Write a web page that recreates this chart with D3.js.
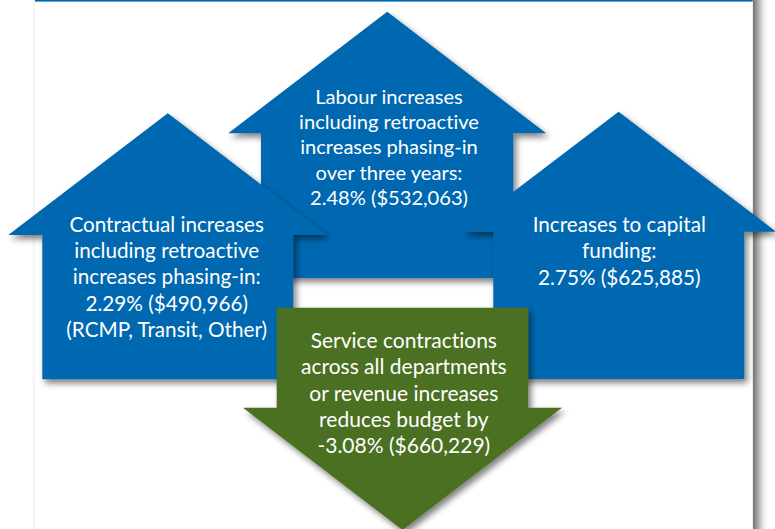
<!DOCTYPE html>
<html>
<head>
<meta charset="utf-8">
<script src="https://cdn.jsdelivr.net/npm/d3@7"></script>
<style>
  html, body { margin: 0; padding: 0; background: #ffffff; }
  svg { display: block; }
  text { font-variant-ligatures: none; font-feature-settings: "liga" 0, "dlig" 0; }
</style>
</head>
<body>
<svg id="chart" width="775" height="529"></svg>
<script>
// ---- data ----
const categories = ["Contractual", "Labour", "Capital", "Service"];
const labelLines = [
  ["Contractual increases", "including retroactive", "increases phasing-in:"],
  ["Labour increases", "including retroactive", "increases phasing-in", "over three years:"],
  ["Increases to capital", "funding:"],
  ["Service contractions", "across all departments", "or revenue increases", "reduces budget by"]
];
const pctValues = [2.29, 2.48, 2.75, -3.08];
const amountValues = [490966, 532063, 625885, 660229];
const noteLines = ["(RCMP, Transit, Other)", null, null, null];
const directions = ["up", "up", "up", "down"];

// ---- layout (geometry, not data) ----
const layout = {
  Contractual: { cx: 167.8, hw: 159.5, apex: 113.3, base: 235, boxL: 42.3, boxR: 293.3, end: 379.3,
                 tx: 166.7, ty: 231.5, lh: 26.45, fit: 194.7, fill: "#0067b1", order: 1 },
  Labour:      { cx: 387.2, hw: 159, apex: 11.7, base: 133.3, boxL: 261, boxR: 513.3, end: 278,
                 tx: 389, ty: 104, lh: 25.2, fit: 180, fill: "#0067b1", order: 0, fitLine: 1 },
  Capital:     { cx: 618.6, hw: 157.5, apex: 111.7, base: 231.7, boxL: 493.3, boxR: 744.3, end: 379,
                 tx: 619.3, ty: 231.7, lh: 26.6, fit: 173.3, fill: "#0067b1", order: 2 },
  Service:     { cx: 402.5, hw: 159.5, apex: 530, base: 407.7, boxL: 276.7, boxR: 528.3, end: 307.7,
                 tx: 403.8, ty: 348.3, lh: 26.1, fit: 205.7, fill: "#4b7020", order: 3, fitLine: 1 }
};

const locale = d3.formatLocale({ decimal: ".", thousands: ",", grouping: [3], currency: ["$", ""], minus: "-" });
const fmtAmt = locale.format(",");
const fmtPct = locale.format(".2f");

const items = categories.map((c, i) => ({
  cat: c,
  dir: directions[i],
  lines: labelLines[i]
    .concat([`${fmtPct(pctValues[i])}% ($${fmtAmt(amountValues[i])})`])
    .concat(noteLines[i] ? [noteLines[i]] : []),
  L: layout[c]
})).sort((a, b) => a.L.order - b.L.order);

const svg = d3.select("#chart");
const W = 775, H = 529;

const defs = svg.append("defs");
const f = defs.append("filter").attr("id", "ds")
  .attr("x", "-20%").attr("y", "-20%").attr("width", "140%").attr("height", "140%");
f.append("feGaussianBlur").attr("in", "SourceAlpha").attr("stdDeviation", 3);
f.append("feOffset").attr("dx", 3).attr("dy", 4).attr("result", "ob");
f.append("feComponentTransfer").call(s => s.append("feFuncA").attr("type", "linear").attr("slope", 0.5));
const fm = f.append("feMerge");
fm.append("feMergeNode");
fm.append("feMergeNode").attr("in", "SourceGraphic");

const pf = defs.append("filter").attr("id", "ps")
  .attr("x", "-10%").attr("y", "-10%").attr("width", "120%").attr("height", "120%");
pf.append("feGaussianBlur").attr("in", "SourceAlpha").attr("stdDeviation", 5);
pf.append("feOffset").attr("dx", 6).attr("dy", 0);
pf.append("feComponentTransfer").call(s => s.append("feFuncA").attr("type", "linear").attr("slope", 0.6));
const pm = pf.append("feMerge");
pm.append("feMergeNode");
pm.append("feMergeNode").attr("in", "SourceGraphic");

// page panel
svg.append("rect").attr("x", 0).attr("y", 0).attr("width", W).attr("height", H).attr("fill", "#ffffff");
svg.append("rect").attr("x", 35).attr("y", -20).attr("width", 717.7).attr("height", H + 40)
  .attr("fill", "#ffffff").attr("filter", "url(#ps)");
svg.append("rect").attr("x", 35).attr("y", 0).attr("width", 717.7).attr("height", 1.6).attr("fill", "#0067b1");

const line = d3.line();
function arrowPts(d) {
  const L = d.L;
  if (d.dir === "up") {
    return [[L.cx, L.apex], [L.cx + L.hw, L.base], [L.boxR, L.base], [L.boxR, L.end],
            [L.boxL, L.end], [L.boxL, L.base], [L.cx - L.hw, L.base]];
  }
  return [[L.boxL, L.end], [L.boxR, L.end], [L.boxR, L.base], [L.cx + L.hw, L.base],
          [L.cx, L.apex], [L.cx - L.hw, L.base], [L.boxL, L.base]];
}

const fontFamily = "Lato, 'Open Sans', sans-serif";
const baseSize = 20;

const g = svg.selectAll("g.arrow").data(items).join("g").attr("class", "arrow");
g.append("path")
  .attr("d", d => line(arrowPts(d)) + "Z")
  .attr("fill", d => d.L.fill)
  .attr("filter", "url(#ds)");

g.each(function (d) {
  const t = d3.select(this).append("text")
    .attr("font-family", fontFamily)
    .attr("font-size", baseSize)
    .attr("fill", "#ffffff")
    .attr("text-anchor", "middle");
  t.selectAll("tspan").data(d.lines).join("tspan")
    .attr("x", d.L.tx)
    .attr("y", (s, i) => d.L.ty + i * d.L.lh)
    .text(s => s);
  const ref = t.selectAll("tspan").nodes()[d.L.fitLine || 0];
  const w = ref.getComputedTextLength();
  if (w > 0) t.attr("font-size", baseSize * d.L.fit / w);
});
</script>
</body>
</html>
